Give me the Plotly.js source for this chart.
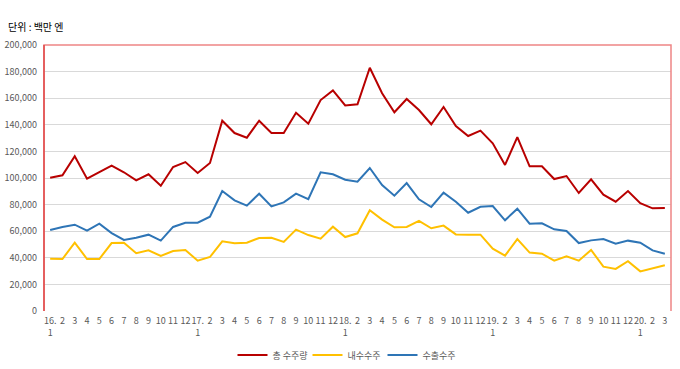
<!DOCTYPE html>
<html><head><meta charset="utf-8">
<script src="https://cdn.plot.ly/plotly-3.0.1.min.js"></script>
<style>html,body{margin:0;padding:0;background:#fff}#chart{width:680px;height:369px}</style>
</head><body><div id="chart"></div>
<script>
const months = ["16.<br>1","2","3","4","5","6","7","8","9","10","11","12",
"17.<br>1","2","3","4","5","6","7","8","9","10","11","12",
"18.<br>1","2","3","4","5","6","7","8","9","10","11","12",
"19.<br>1","2","3","4","5","6","7","8","9","10","11","12",
"20.<br>1","2","3"];
const total = [100200,102000,116300,99500,104500,109300,104300,98200,102800,94200,108300,112000,
103800,111300,143100,133800,130300,143100,133800,133800,149100,140800,158600,165900,
154600,155400,182900,163700,149400,159400,151100,140400,153400,139100,131600,135600,
126100,109800,130800,108800,108800,99200,101500,88700,99000,87500,82200,90200,
81000,77200,77400];
const domestic = [39300,39100,51400,39100,39100,51100,51400,43400,45600,41400,45100,45900,
37800,40600,52400,50900,51400,54900,55100,51900,61200,57100,54400,63400,
55600,58400,75700,68700,62900,63200,67700,62200,64200,57600,57400,57400,
46900,41600,54100,43900,43100,37800,41100,37800,45900,33300,31600,37400,
29800,32100,34400];
const exportOrders = [60900,63200,64900,60400,65600,58600,53400,55100,57400,52900,63200,66400,
66400,70900,90200,83200,79200,88200,78700,81700,88200,84000,104300,102800,
98700,97200,107500,94700,86700,96200,84000,78200,89000,82200,73900,78400,
78900,68200,76900,65600,65900,61400,60200,51100,53100,54100,50600,52900,
51400,45600,43100];
const seriesNames = ["총 수주량","내수수주","수출수주"];
const yTicks = [0,20000,40000,60000,80000,100000,120000,140000,160000,180000,200000];

const idx = months.map((_, i) => i);
const font = "'Noto Sans CJK KR','Noto Sans',sans-serif";
const mk = (y, name, color) => ({x: idx, y: y, name: name, type: 'scatter', mode: 'lines',
  line: {color: color, width: 2}, hoverinfo: 'skip'});
const data = [mk(total, seriesNames[0], '#b80000'), mk(domestic, seriesNames[1], '#ffc000'), mk(exportOrders, seriesNames[2], '#2e75b6')];

const layout = {
  width: 680, height: 369,
  margin: {l: 44, r: 9, t: 45, b: 58, autoexpand: false},
  paper_bgcolor: '#fff', plot_bgcolor: '#fff',
  font: {family: font, size: 9, color: '#595959'},
  title: {text: '단위 : 백만 엔', font: {family: font, size: 10, color: '#000'},
    x: 8/680, xref: 'container', xanchor: 'left', y: 1-27/369, yref: 'container', yanchor: 'middle'},
  xaxis: {range: [-0.5, months.length - 0.5], tickmode: 'array', tickvals: idx, ticktext: months,
    showgrid: false, zeroline: false, showline: false, ticks: '', tickangle: 0, ticklabelstandoff: 3,
    tickfont: {family: font, size: 9, color: '#595959'}, fixedrange: true},
  yaxis: {range: [0, 200000], tickmode: 'array', tickvals: yTicks, tickformat: ',',
    showgrid: true, gridcolor: '#d9d9d9', gridwidth: 1, zeroline: false, showline: false, ticks: '',
    ticklabelstandoff: 6, tickfont: {family: font, size: 9, color: '#595959'}, fixedrange: true},
  shapes: [
    {type: 'path', xref: 'paper', yref: 'paper', path: 'M 0 0 L 0 1 L 1 1 L 1 0',
     line: {color: '#ee8585', width: 1.5}},
    {type: 'line', xref: 'paper', yref: 'paper', x0: 0, x1: 0, y0: 0, y1: 1,
     line: {color: '#e04848', width: 1.5}}
  ],
  showlegend: true,
  legend: {orientation: 'h', x: 345/680, xref: 'container', xanchor: 'center',
    y: 1-355/369, yref: 'container', yanchor: 'middle',
    font: {family: font, size: 9, color: '#595959'}, itemwidth: 30,
    entrywidth: 30, entrywidthmode: 'pixels'}
};
Plotly.newPlot('chart', data, layout, {displayModeBar: false, staticPlot: true});
</script></body></html>
